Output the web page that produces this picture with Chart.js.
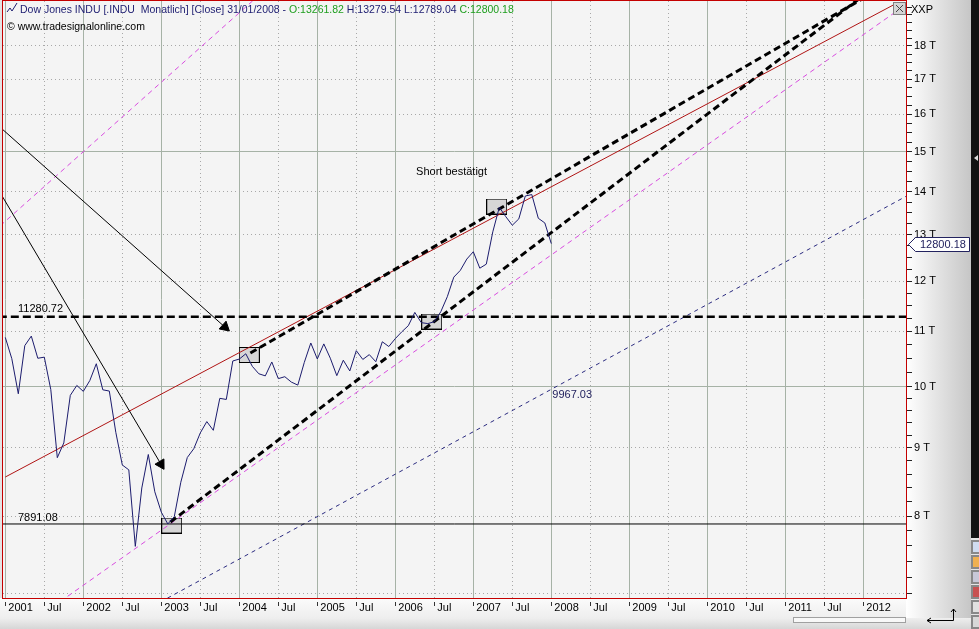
<!DOCTYPE html>
<html>
<head>
<meta charset="utf-8">
<script src="https://cdn.jsdelivr.net/npm/chart.js@4.4.0/dist/chart.umd.min.js"></script>
<style>
  html, body { margin: 0; padding: 0; background: #e6e6e6; overflow: hidden; }
  #chart { display: block; }
</style>
</head>
<body>
<canvas id="chart" width="979" height="629"></canvas>
<script>
// monthly closes, Jan 2001 .. Jan 2008 (x = month index from Jan 2001)
const closes = [
  10887.36, 10495.28, 9878.78, 10734.97, 10911.94, 10502.40, 10522.81, 9949.75, 8847.56, 9075.14, 9851.56, 10021.50,
  9920.00, 10106.13, 10403.94, 9946.22, 9925.25, 9243.26, 8736.59, 8663.50, 7591.93, 8397.03, 8896.09, 8341.63,
  8053.81, 7891.08, 7992.13, 8480.09, 8850.26, 8985.44, 9233.80, 9415.82, 9275.06, 9801.12, 9782.46, 10453.92,
  10488.07, 10583.92, 10357.70, 10225.57, 10188.45, 10435.48, 10139.71, 10173.92, 10080.27, 10027.47, 10428.02, 10783.01,
  10489.94, 10766.23, 10503.76, 10192.51, 10467.48, 10274.97, 10640.91, 10481.60, 10568.70, 10440.07, 10805.87, 10717.50,
  10864.86, 10993.41, 11109.32, 11367.14, 11168.31, 11150.22, 11185.68, 11381.15, 11679.07, 12080.73, 12221.93, 12463.15,
  12621.69, 12268.63, 12354.35, 13062.91, 13627.64, 13408.62, 13211.99, 13357.74, 13895.63, 13930.01, 13371.72, 13264.82,
  12800.18
];

// x tick labels every 6 months
const tickLabels = ["2001", "Jul", "2002", "Jul", "2003", "Jul", "2004", "Jul", "2005", "Jul", "2006", "Jul",
  "2007", "Jul", "2008", "Jul", "2009", "Jul", "2010", "Jul", "2011", "Jul", "2012"];
const yLabelled = [8000, 9000, 10000, 11000, 12000, 13000, 14000, 15000, 16000, 17000, 18000];

// drawn lines [monthIndex, value]
const resistance = 11280.72;
const support = 7891.08;
const blueLabelValue = 9967.03;
const lastClose = 12800.18;
const redTrend = [[0, 8557], [137.2, 19386]];
const upperDashed = [[37.7, 10598], [132, 19545]];
const lowerDashed = [[25.4, 7918], [131.5, 19551]];
const magentaLow = [[8.46, 6903], [138.6, 19338]];
const magentaHigh = [[-0.77, 13201], [38.46, 19537]];
const blueDashed = [[23.85, 6897], [139.2, 13941]];
const arrowA = [[-0.5, 15600], [33.78, 11084], [34.3, 11027]];
const arrowB = [[-0.5, 13898], [23.95, 8749], [24.31, 8691]];
const boxes = [[25.6, 7870], [37.54, 10562], [65.6, 11190], [75.6, 13646]];
const shortNote = [63.2, 14483];

const FONT = '"Liberation Sans", Arial, sans-serif';
const pts = (arr) => arr.map(([x, y]) => ({ x, y }));

const boxImg = document.createElement("canvas");
boxImg.width = 21;
boxImg.height = 16;
{
  const b = boxImg.getContext("2d");
  b.fillStyle = "#d6d6d6";
  b.fillRect(0, 0, 21, 16);
  b.strokeStyle = "#000";
  b.strokeRect(0.5, 0.5, 20, 15);
}

const minorTicks = [];
for (let v = 7000; v < 10000; v += 200) minorTicks.push(v);
for (let v = 10000; v <= 19250; v += 250) minorTicks.push(v);

const solidGrid = "#a6b2a6";
const dotGrid = "#a8a8a8";

const line = (data, color, width, dash, order) => ({
  type: "line",
  data: pts(data),
  borderColor: color,
  borderWidth: width,
  borderDash: dash,
  pointRadius: 0,
  tension: 0,
  order,
});

const decor = {
  id: "decor",
  beforeDraw(chart) {
    const { ctx, chartArea: a } = chart;
    ctx.save();
    ctx.fillStyle = "#e4e4e4";
    ctx.fillRect(0, 0, 979, 629);
    let g = ctx.createLinearGradient(0, a.bottom, 0, 629);
    g.addColorStop(0, "#fbfbfb");
    g.addColorStop(0.65, "#eeeeee");
    g.addColorStop(1, "#d6d6d6");
    ctx.fillStyle = g;
    ctx.fillRect(0, a.bottom, 971, 629 - a.bottom);
    g = ctx.createLinearGradient(a.right, 0, 971, 0);
    g.addColorStop(0, "#ffffff");
    g.addColorStop(1, "#c6c6c6");
    ctx.fillStyle = g;
    ctx.fillRect(a.right, 0, 971 - a.right, a.bottom + 20);
    ctx.fillStyle = "#f4f4f4";
    ctx.fillRect(a.left, a.top, a.right - a.left, a.bottom - a.top);
    // right tool strip
    ctx.fillStyle = "#121212";
    ctx.fillRect(971, 0, 8, 538);
    ctx.fillStyle = "#ddd";
    ctx.beginPath();
    ctx.moveTo(974, 158); ctx.lineTo(978, 155); ctx.lineTo(978, 161); ctx.fill();
    const icons = ["#d0dcf0", "#f0b050", "#c8c8d8", "#c85050", "#e0e0e0", "#d8d8d8"];
    icons.forEach((c, k) => {
      ctx.fillStyle = "#888";
      ctx.fillRect(971, 540 + k * 15, 8, 14);
      ctx.fillStyle = c;
      ctx.fillRect(973, 542 + k * 15, 6, 10);
    });
    ctx.restore();
  },
  afterDatasetsDraw(chart) {
    const { ctx, scales: { x, y } } = chart;
    ctx.save();
    ctx.font = "11px " + FONT;
    ctx.textAlign = "left";
    ctx.fillStyle = "#000";
    ctx.textBaseline = "bottom";
    ctx.fillText(resistance.toFixed(2), 18, y.getPixelForValue(resistance) - 2);
    ctx.fillText(support.toFixed(2), 18, y.getPixelForValue(support) - 1);
    ctx.textBaseline = "middle";
    ctx.fillText("Short bestätigt", x.getPixelForValue(shortNote[0]), y.getPixelForValue(shortNote[1]));
    ctx.fillStyle = "#23235f";
    ctx.textBaseline = "top";
    ctx.fillText(blueLabelValue.toFixed(2), x.getPixelForValue(84) + 1, y.getPixelForValue(blueLabelValue) + 1);
    ctx.restore();
  },
  afterDraw(chart) {
    const { ctx, chartArea: a, scales: { y } } = chart;
    ctx.save();
    ctx.strokeStyle = "#c40000";
    ctx.lineWidth = 1;
    ctx.strokeRect(a.left - 0.5, a.top - 0.5, a.right - a.left + 1, a.bottom - a.top + 1);

    // header
    ctx.strokeStyle = "#1c1c70";
    ctx.beginPath();
    ctx.moveTo(7, 12); ctx.lineTo(10, 8); ctx.lineTo(12, 11); ctx.lineTo(17, 3);
    ctx.stroke();
    ctx.font = "10.5px " + FONT;
    ctx.textBaseline = "alphabetic";
    ctx.textAlign = "left";
    let hx = 20;
    [
      ["Dow Jones INDU [.INDU  Monatlich] [Close] 31/01/2008 - ", "#1c1c70"],
      ["O:13261.82", "#1e9e1e"],
      [" H:13279.54 L:12789.04 ", "#1c1c70"],
      ["C:12800.18", "#1e9e1e"],
    ].forEach(([t, c]) => {
      ctx.fillStyle = c;
      ctx.fillText(t, hx, 13);
      hx += ctx.measureText(t).width;
    });
    ctx.fillStyle = "#000";
    ctx.fillText("© www.tradesignalonline.com", 7, 30);

    // top right corner
    ctx.font = "11px " + FONT;
    ctx.fillText("XXP", 911, 13);
    ctx.fillStyle = "#d4d4d4";
    ctx.fillRect(893, 2, 13, 13);
    ctx.strokeStyle = "#808080";
    ctx.strokeRect(893.5, 2.5, 12, 12);
    ctx.strokeStyle = "#444";
    ctx.beginPath();
    ctx.moveTo(896, 5); ctx.lineTo(903, 12); ctx.moveTo(903, 5); ctx.lineTo(896, 12);
    ctx.stroke();

    // last value callout
    const cy = Math.round(y.getPixelForValue(lastClose)) + 0.5;
    ctx.beginPath();
    ctx.moveTo(908.5, cy);
    ctx.lineTo(915.5, cy - 7);
    ctx.lineTo(969.5, cy - 7);
    ctx.lineTo(969.5, cy + 7);
    ctx.lineTo(915.5, cy + 7);
    ctx.closePath();
    ctx.fillStyle = "#fff";
    ctx.fill();
    ctx.strokeStyle = "#23235f";
    ctx.stroke();
    ctx.fillStyle = "#23235f";
    ctx.textBaseline = "middle";
    ctx.fillText(lastClose.toFixed(2), 920, cy + 0.5);

    // bottom scrollbar + return arrow
    ctx.strokeStyle = "#a0a0a0";
    ctx.fillStyle = "#f8f8f8";
    ctx.fillRect(794, 618, 112, 5);
    ctx.strokeRect(793.5, 617.5, 112, 5);
    ctx.strokeStyle = "#000";
    ctx.beginPath();
    ctx.moveTo(927, 620.5); ctx.lineTo(953.5, 620.5); ctx.lineTo(953.5, 609);
    ctx.moveTo(927, 620.5); ctx.lineTo(931, 618); ctx.moveTo(927, 620.5); ctx.lineTo(931, 623);
    ctx.moveTo(953.5, 609); ctx.lineTo(951, 612); ctx.moveTo(953.5, 609); ctx.lineTo(956, 612);
    ctx.stroke();
    ctx.restore();
  },
};

new Chart(document.getElementById("chart"), {
  type: "line",
  data: {
    datasets: [
      { ...line(closes.map((v, i) => [i, v]), "#1c1c6e", 1, [], 1) },
      line(upperDashed, "#000", 3, [7, 4], 2),
      line(lowerDashed, "#000", 3, [7, 4], 2),
      line([[-1, resistance], [140, resistance]], "#000", 2.5, [8, 4], 2),
      line([[-1, support], [140, support]], "#000", 1, [], 3),
      line(redTrend, "#b01414", 1, [], 3),
      line(magentaLow, "#d94ce0", 1, [5, 4], 4),
      line(magentaHigh, "#d94ce0", 1, [5, 4], 4),
      line(blueDashed, "#2b2b80", 1, [4, 4], 4),
      {
        ...line(arrowA, "#000", 1, [], 2),
        pointRadius: [0, 6, 0],
        pointStyle: "triangle",
        pointRotation: [0, 131.5, 0],
        pointBackgroundColor: "#000",
        pointBorderColor: "#000",
        pointBorderWidth: 1,
      },
      {
        ...line(arrowB, "#000", 1, [], 2),
        pointRadius: [0, 6, 0],
        pointStyle: "triangle",
        pointRotation: [0, 149.3, 0],
        pointBackgroundColor: "#000",
        pointBorderColor: "#000",
        pointBorderWidth: 1,
      },
      {
        type: "scatter",
        data: pts(boxes),
        pointStyle: boxImg,
        pointRadius: 10,
        showLine: false,
        order: 9,
      },
    ],
  },
  options: {
    responsive: false,
    animation: false,
    events: [],
    layout: { autoPadding: false, padding: { left: 3, top: 1, right: 0, bottom: 0 } },
    plugins: { legend: { display: false }, tooltip: { enabled: false } },
    scales: {
      x: {
        type: "linear",
        min: -0.354,
        max: 138.57,
        afterBuildTicks: (axis) => {
          axis.ticks = tickLabels.map((_, k) => ({ value: k * 6 }));
        },
        afterFit: (axis) => {
          axis.height = 31;
          axis.paddingLeft = 0;
          axis.paddingRight = 0;
        },
        border: {
          display: false,
          dash: (ctx) => (ctx.index % 2 ? [1, 3] : []),
        },
        grid: {
          color: (ctx) => (ctx.index % 2 ? dotGrid : solidGrid),
          tickColor: "#333",
          tickLength: 8,
          tickBorderDash: [0, 4, 4, 20],
        },
        ticks: {
          autoSkip: false,
          maxRotation: 0,
          align: "start",
          labelOffset: 3,
          padding: -5,
          color: "#000",
          font: { family: FONT, size: 11 },
          callback: (v) => tickLabels[Math.round(v / 6)],
        },
      },
      y: {
        type: "logarithmic",
        position: "right",
        min: 6945,
        max: 19453,
        afterBuildTicks: (axis) => {
          axis.ticks = minorTicks.map((v) => ({ value: v }));
        },
        afterFit: (axis) => {
          axis.width = 73;
          axis.paddingTop = 0;
          axis.paddingBottom = 0;
        },
        border: {
          display: false,
          dash: (ctx) => {
            const v = ctx.tick && ctx.tick.value;
            return v === 10000 || v === 15000 ? [] : [1, 3];
          },
        },
        grid: {
          color: (ctx) => {
            const v = ctx.tick && ctx.tick.value;
            if (v % 1000 !== 0 || v > 18000) return "rgba(0,0,0,0)";
            return v === 10000 || v === 15000 ? solidGrid : dotGrid;
          },
          tickColor: "#222",
          tickLength: 6,
        },
        ticks: {
          autoSkip: false,
          padding: 2,
          color: "#000",
          font: { family: FONT, size: 11 },
          callback: (v) => (yLabelled.includes(v) ? v / 1000 + " T" : ""),
        },
      },
    },
  },
  plugins: [decor],
});
</script>
</body>
</html>
